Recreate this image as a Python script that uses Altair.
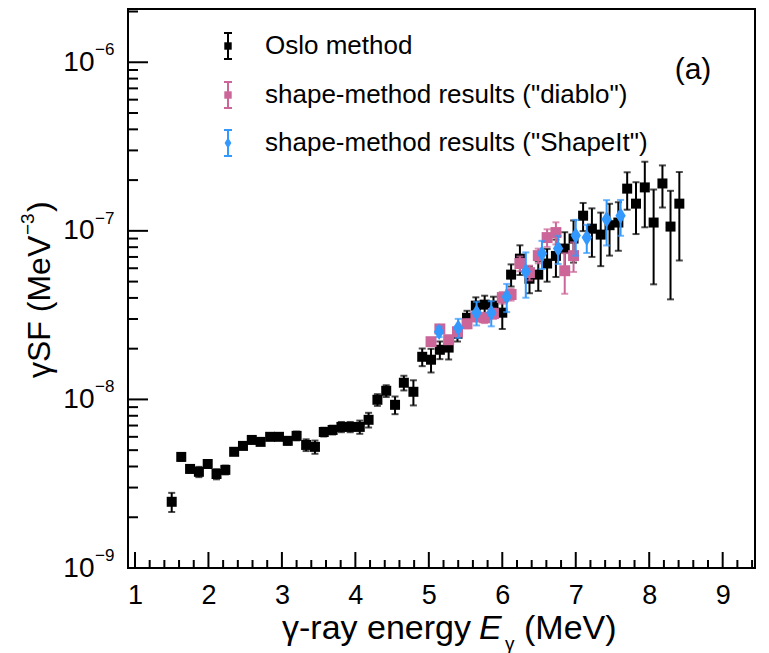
import altair as alt
import pandas as pd

FONT = "Liberation Sans"

# ---------------- data ----------------
oslo_e = [1.50, 1.63, 1.75, 1.87, 1.99, 2.11, 2.23, 2.35, 2.47, 2.59, 2.71, 2.84, 2.96,
          3.08, 3.20, 3.33, 3.45, 3.57, 3.69, 3.81, 3.93,
          4.06, 4.18, 4.30, 4.42, 4.54, 4.66, 4.79, 4.91,
          5.03, 5.15, 5.27, 5.39, 5.52, 5.64, 5.76, 5.88,
          6.00, 6.12, 6.24, 6.37, 6.49, 6.61, 6.73, 6.85, 6.97,
          7.10, 7.22, 7.34, 7.46, 7.58, 7.70, 7.82, 7.94,
          8.06, 8.18, 8.29, 8.41]
oslo_v = [2.47e-9, 4.56e-9, 3.87e-9, 3.72e-9, 4.14e-9, 3.61e-9, 3.82e-9, 4.89e-9, 5.30e-9, 5.75e-9, 5.60e-9, 6.00e-9, 6.00e-9,
          5.68e-9, 6.08e-9, 5.37e-9, 5.23e-9, 6.41e-9, 6.59e-9, 6.87e-9, 6.87e-9,
          6.87e-9, 7.57e-9, 9.95e-9, 1.125e-8, 9.29e-9, 1.256e-8, 1.11e-8, 1.79e-8,
          1.72e-8, 1.97e-8, 2.03e-8, 2.45e-8, 3.05e-8, 3.60e-8, 3.65e-8, 3.60e-8,
          3.27e-8, 5.50e-8, 6.84e-8, 5.20e-8, 5.50e-8, 6.40e-8, 7.10e-8, 7.85e-8, 9.00e-8,
          1.23e-7, 1.03e-7, 9.50e-8, 1.08e-7, 1.12e-7, 1.78e-7, 1.45e-7, 1.81e-7,
          1.12e-7, 1.91e-7, 1.06e-7, 1.45e-7]
oslo_rel_err = [0.13, 0.05, 0.05, 0.07, 0.04, 0.07, 0.06, 0.04, 0.04, 0.04, 0.04, 0.04, 0.04,
                0.05, 0.06, 0.08, 0.09, 0.06, 0.06, 0.07, 0.07,
                0.09, 0.10, 0.08, 0.08, 0.12, 0.10, 0.17, 0.12,
                0.16, 0.12, 0.15, 0.10, 0.10, 0.12, 0.13, 0.13,
                0.20, 0.15, 0.20, 0.18, 0.20, 0.22, 0.25, 0.25, 0.28,
                0.19, 0.32, 0.35, 0.34, 0.32, 0.25, 0.34, 0.42,
                0.57, 0.28, 0.63, 0.54]

diablo_e = [5.03, 5.15, 5.27, 5.39, 5.52, 5.64, 5.76, 5.88, 6.00, 6.12, 6.24, 6.37, 6.49, 6.61, 6.73, 6.85, 6.97]
diablo_v = [2.20e-8, 2.62e-8, 2.26e-8, 2.52e-8, 2.81e-8, 3.09e-8, 3.05e-8, 3.23e-8, 4.02e-8, 4.19e-8,
            6.40e-8, 5.65e-8, 7.13e-8, 9.12e-8, 9.77e-8, 5.80e-8, 7.13e-8]
diablo_rel_err = [0.05, 0.05, 0.05, 0.06, 0.06, 0.06, 0.07, 0.07, 0.08, 0.08, 0.10, 0.10, 0.10, 0.12, 0.15, 0.27, 0.20]

shapeit_e = [5.14, 5.40, 5.65, 5.85, 6.06, 6.32, 6.54, 6.76, 7.00, 7.15, 7.42, 7.61]
shapeit_v = [2.52e-8, 2.66e-8, 3.27e-8, 3.27e-8, 4.07e-8, 5.73e-8, 7.33e-8, 7.85e-8, 9.37e-8, 9.12e-8, 1.17e-7, 1.23e-7]
shapeit_rel_err = [0.07, 0.13, 0.16, 0.17, 0.19, 0.30, 0.19, 0.19, 0.24, 0.19, 0.30, 0.24]

legend_labels = ["Oslo method", 'shape-method results ("diablo")', 'shape-method results ("ShapeIt")']

x_major = [1, 2, 3, 4, 5, 6, 7, 8, 9]
x_minor = [round(m + f, 1) for m in range(0, 10) for f in (0.2, 0.4, 0.6, 0.8) if 0.905 < m + f < 9.44]
y_major = [1e-9, 1e-8, 1e-7, 1e-6]
y_exp = ["\u22129", "\u22128", "\u22127", "\u22126"]
y_minor = [k * d for d in (1e-9, 1e-8, 1e-7, 1e-6) for k in range(2, 10) if k * d < 2.07e-6]

# ---------------- styling ----------------
W, H = 627, 559
BLACK = "#000000"
PINK = "#CC6699"
BLUE = "#3399FF"

xs = alt.Scale(domain=[0.905, 9.44], nice=False, zero=False)
ys = alt.Scale(type="log", domain=[1e-9, 2.07e-6], nice=False)
xaxis = alt.Axis(values=x_major, ticks=False, tickSize=0, domain=False, grid=False, title=None,
                 labelFont=FONT, labelFontSize=27, labelColor="black", labelPadding=14,
                 labelFlush=False, format="d")
yaxis = alt.Axis(values=y_major, ticks=False, tickSize=0, domain=False, grid=False, title=None,
                 labelFont=FONT, labelFontSize=28, labelColor="black", labelPadding=34,
                 labelExpr="'10'", labelBaseline="middle")

X = lambda f: alt.X(f, scale=xs, axis=xaxis)
Y = lambda f: alt.Y(f, scale=ys, axis=yaxis)


def frame(e, v, r):
    return pd.DataFrame({"e": e, "v": v,
                         "lo": [a * (1 - b) for a, b in zip(v, r)],
                         "hi": [a * (1 + b) for a, b in zip(v, r)]})


def series(df, color, shape, size):
    base = alt.Chart(df)
    bar = base.mark_rule(color=color, strokeWidth=2).encode(x=X("e:Q"), y=Y("lo:Q"), y2="hi:Q")
    c1 = base.mark_tick(color=color, orient="horizontal", size=7, thickness=2).encode(x=X("e:Q"), y=Y("lo:Q"))
    c2 = base.mark_tick(color=color, orient="horizontal", size=7, thickness=2).encode(x=X("e:Q"), y=Y("hi:Q"))
    pts = base.mark_point(shape=shape, filled=True, size=size, color=color, opacity=1,
                          strokeWidth=0).encode(x=X("e:Q"), y=Y("v:Q"))
    return [bar, c1, c2, pts]


DIAMOND = "M0,-1L0.62,0L0,1L-0.62,0Z"

layers = []
layers += series(frame(oslo_e, oslo_v, oslo_rel_err), BLACK, "square", 100)
layers += series(frame(diablo_e, diablo_v, diablo_rel_err), PINK, "square", 120)
layers += series(frame(shapeit_e, shapeit_v, shapeit_rel_err), BLUE, DIAMOND, 280)

# inward ticks (ROOT style)
layers.append(alt.Chart(pd.DataFrame({"t": x_major})).mark_rule(color=BLACK, strokeWidth=2)
              .encode(x=X("t:Q"), y=alt.value(H), y2=alt.value(H - 16)))
layers.append(alt.Chart(pd.DataFrame({"t": x_minor})).mark_rule(color=BLACK, strokeWidth=2)
              .encode(x=X("t:Q"), y=alt.value(H), y2=alt.value(H - 8)))
layers.append(alt.Chart(pd.DataFrame({"t": y_major})).mark_rule(color=BLACK, strokeWidth=2)
              .encode(y=Y("t:Q"), x=alt.value(0), x2=alt.value(20)))
layers.append(alt.Chart(pd.DataFrame({"t": y_minor})).mark_rule(color=BLACK, strokeWidth=2)
              .encode(y=Y("t:Q"), x=alt.value(0), x2=alt.value(10)))

# exponents of the y tick labels
layers.append(alt.Chart(pd.DataFrame({"t": y_major, "lab": y_exp}))
              .mark_text(font=FONT, fontSize=17, align="left", baseline="middle", dy=-12, color="black")
              .encode(y=Y("t:Q"), x=alt.value(-33), text="lab:N"))

# axis titles (text with italic / sub- and superscripts)
one = pd.DataFrame({"k": [0]})
def txt(s, x, y, size, **kw):
    return (alt.Chart(one).mark_text(font=FONT, fontSize=size, color="black", **kw)
            .encode(x=alt.value(x), y=alt.value(y), text=alt.value(s)))

layers.append(txt("\u03b3-ray energy", 343, 620, 34, align="right", baseline="middle"))
layers.append(txt("E", 351, 620, 34, align="left", baseline="middle", fontStyle="italic"))
layers.append(txt("\u03b3", 377, 635, 19, align="left", baseline="middle"))
layers.append(txt("(MeV)", 396, 620, 34, align="left", baseline="middle"))

layers.append(txt("\u03b3SF (MeV", -88, 369, 32, align="left", baseline="middle", angle=270))
layers.append(txt("\u22123", -100, 226, 19, align="left", baseline="middle", angle=270))
layers.append(txt(")", -88, 203, 32, align="left", baseline="middle", angle=270))

# panel tag
layers.append(txt("(a)", 565, 61, 30, align="center", baseline="middle"))

# legend
leg_colors = [BLACK, PINK, BLUE]
leg_shapes = ["square", "square", DIAMOND]
leg_sizes = [55, 55, 120]
leg_y = [37, 86, 134]
for lab, col, shp, sz, yy in zip(legend_labels, leg_colors, leg_shapes, leg_sizes, leg_y):
    d = pd.DataFrame({"label": [lab]})
    b = alt.Chart(d)
    layers.append(b.mark_rule(color=col, strokeWidth=2).encode(x=alt.value(100), y=alt.value(yy - 13), y2=alt.value(yy + 13)))
    layers.append(b.mark_rule(color=col, strokeWidth=2).encode(x=alt.value(96), x2=alt.value(104), y=alt.value(yy - 13)))
    layers.append(b.mark_rule(color=col, strokeWidth=2).encode(x=alt.value(96), x2=alt.value(104), y=alt.value(yy + 13)))
    layers.append(b.mark_point(shape=shp, filled=True, size=sz, color=col, opacity=1, strokeWidth=0)
                  .encode(x=alt.value(100), y=alt.value(yy)))
    layers.append(b.mark_text(font=FONT, fontSize=26, align="left", baseline="middle", color="black")
                  .encode(x=alt.value(137), y=alt.value(yy), text="label:N"))

chart = (alt.layer(*layers)
         .properties(width=W, height=H, autosize=alt.AutoSizeParams(type="none"),
                     padding={"left": 128, "top": 9, "right": 14, "bottom": 85},
                     background="white")
         .configure_view(stroke="black", strokeWidth=2))

chart.save("out.html", embed_options={"renderer": "svg", "actions": False})
